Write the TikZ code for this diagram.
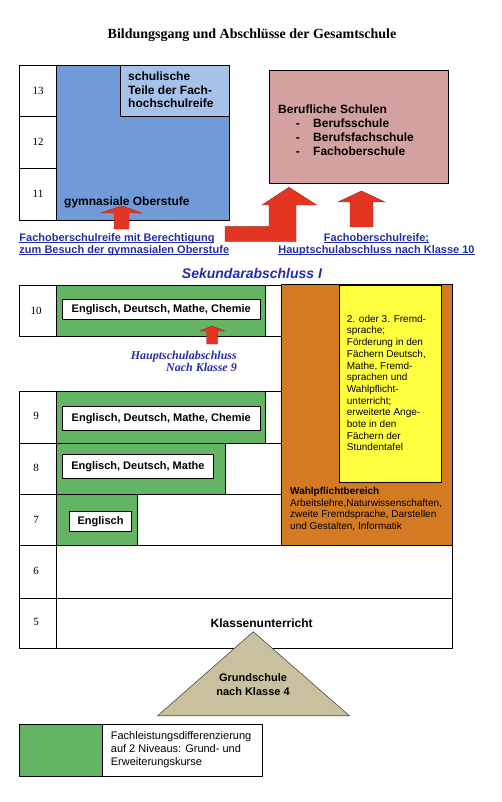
\documentclass[tikz,border=0pt]{standalone}
\usepackage{fontspec}
\setmainfont{Liberation Sans}
\newfontfamily\timesfont{Liberation Serif}

\definecolor{gymblau}{RGB}{112,155,216}
\definecolor{hellblau}{RGB}{166,194,233}
\definecolor{rosa}{RGB}{212,161,161}
\definecolor{pfeilrot}{RGB}{228,53,35}
\definecolor{gruen}{RGB}{99,180,99}
\definecolor{wahlorange}{RGB}{212,122,34}
\definecolor{gelb}{RGB}{255,255,64}
\definecolor{sand}{RGB}{201,193,157}
\definecolor{linkblau}{RGB}{35,45,170}

% underline close to the baseline
\newcommand{\unterstr}[1]{\setbox0\hbox{#1}\rlap{\rule[-1.8pt]{\wd0}{0.8pt}}\box0}

\begin{document}
\begin{tikzpicture}[x=1pt,y=-1pt,
  every node/.style={inner sep=0pt},
  rahmen/.style={draw=black, line width=0.8pt},
  zahl/.style={font=\timesfont\fontsize{11}{13}\selectfont},
  kurs/.style={draw=black, line width=0.8pt, fill=white, anchor=north west,
    font=\bfseries\fontsize{11}{13}\selectfont},
  pfeil/.style={fill=pfeilrot, draw=pfeilrot!70!black, line width=0.4pt},
  hinweis/.style={text=linkblau, font=\bfseries\fontsize{11}{12}\selectfont}
]
\useasboundingbox (0,0) rectangle (501,802);

% Title
\node[font=\timesfont\bfseries\fontsize{14}{16}\selectfont] (titel) at (252,35)
  {Bildungsgang und Abschlüsse der Gesamtschule};

% Oberstufe
\draw[rahmen] (19.3,65) rectangle (56.7,220);
\draw[rahmen] (19.3,116) -- (56.7,116) (19.3,168) -- (56.7,168);
\draw[rahmen, fill=gymblau] (56.7,65) rectangle (229,220);
\draw[rahmen, fill=hellblau] (120.7,65) rectangle (229,116);
\node[zahl] (k13) at (38,90.7) {13};
\node[zahl] (k12) at (38,142) {12};
\node[zahl] (k11) at (38,193.5) {11};
\node[anchor=base west, align=left, font=\bfseries\fontsize{12}{13.5}\selectfont]
  (fhr) at (128,108) {schulische\\Teile der Fach-\\hochschulreife};
\node[anchor=base west, font=\bfseries\fontsize{12}{14}\selectfont]
  (gym) at (64,206) {gymnasiale Oberstufe};

% Berufliche Schulen
\draw[rahmen, fill=rosa] (269,70) rectangle (448,183);
\node[anchor=base west, align=left, font=\bfseries\fontsize{12}{14}\selectfont]
  (beruf) at (278,156) {Berufliche Schulen\\
  \hspace*{17.7pt}\makebox[17.3pt][l]{-}Berufsschule\\
  \hspace*{17.7pt}\makebox[17.3pt][l]{-}Berufsfachschule\\
  \hspace*{17.7pt}\makebox[17.3pt][l]{-}Fachoberschule};

% Arrows
\draw[pfeil] (114,229) -- (114,213) -- (101,213) -- (121.5,206) -- (142,213)
  -- (129,213) -- (129,229) -- cycle;
\draw[pfeil] (225,226.7) -- (269,226.7) -- (269,205) -- (262,205) -- (289,187.3)
  -- (316.7,205) -- (296,205) -- (296,241.7) -- (225,241.7) -- cycle;
\draw[pfeil] (350,227) -- (350,202) -- (338,202) -- (361.5,191) -- (385,202)
  -- (373,202) -- (373,227) -- cycle;

\node[hinweis, anchor=base west, align=left] (fosgym) at (19.3,253)
  {\unterstr{Fachoberschulreife mit Berechtigung}\\
   \unterstr{zum Besuch der gymnasialen Oberstufe}};
\node[hinweis, anchor=base, align=center] (fos) at (376.5,253)
  {\unterstr{Fachoberschulreife;}\\
   \unterstr{Hauptschulabschluss nach Klasse 10}};

\node[text=linkblau, font=\bfseries\itshape\fontsize{14}{16}\selectfont]
  (sek) at (252,273) {Sekundarabschluss I};

% Wahlpflichtbereich
\draw[rahmen, fill=wahlorange] (281.7,284.3) rectangle (452.3,545.7);
\draw[rahmen, fill=gelb] (339.7,285.7) rectangle (441.7,482.3);
\node[anchor=base west, align=left, font=\fontsize{10}{11.7}\selectfont]
  (foerder) at (346.7,450.9) {2. oder 3. Fremd-\\sprache;\\Förderung in den\\
  Fächern Deutsch,\\Mathe, Fremd-\\sprachen und\\Wahlpflicht-\\unterricht;\\
  erweiterte Ange-\\bote in den\\Fächern der\\Stundentafel};
\node[anchor=base west, align=left, font=\fontsize{10}{11.7}\selectfont]
  (wahl) at (290,529.6) {\textbf{Wahlpflichtbereich}\\
  Arbeitslehre,Naturwissenschaften,\\zweite Fremdsprache, Darstellen\\
  und Gestalten, Informatik};

% Klasse 10
\draw[rahmen] (19.3,285.7) rectangle (281.7,336);
\draw[rahmen, fill=gruen] (56.7,285.7) rectangle (265,336);
\node[kurs, minimum width=198.3pt, minimum height=19.7pt] (kurs10) at (61.7,299)
  {Englisch, Deutsch, Mathe, Chemie};
\node[zahl] (k10) at (36,310.7) {10};
\draw[pfeil] (206.7,344) -- (206.7,331) -- (200,331) -- (211.7,326) -- (225,331)
  -- (217.3,331) -- (217.3,344) -- cycle;
\node[anchor=base east, align=right, text=linkblau,
  font=\timesfont\bfseries\itshape\fontsize{12}{12}\selectfont]
  (hsa9) at (237,371) {Hauptschulabschluss\\Nach Klasse 9};

% Klassen 9 bis 7
\draw[rahmen] (19.3,391) rectangle (281.7,545.7);
\draw[rahmen] (19.3,443) -- (281.7,443) (19.3,494) -- (281.7,494);
\draw[rahmen, fill=gruen] (56.7,391) rectangle (265,443);
\draw[rahmen, fill=gruen] (56.7,443) rectangle (225,494);
\draw[rahmen, fill=gruen] (56.7,494) rectangle (137.3,545.7);
\node[kurs, minimum width=198.3pt, minimum height=24.6pt] (kurs9) at (61.7,405.7)
  {Englisch, Deutsch, Mathe, Chemie};
\node[kurs, minimum width=151.6pt, minimum height=24pt] (kurs8) at (61.7,454.3)
  {Englisch, Deutsch, Mathe};
\node[kurs, minimum width=61.7pt, minimum height=20pt] (kurs7) at (69.3,511)
  {Englisch};
\node[zahl] (k9) at (36,416) {9};
\node[zahl] (k8) at (36,468.3) {8};
\node[zahl] (k7) at (36,520) {7};

% Klassen 6 und 5
\draw[rahmen] (19.3,545.7) rectangle (452.3,648.3);
\draw[rahmen] (19.3,598.3) -- (452.3,598.3) (56.7,545.7) -- (56.7,648.3);
\node[zahl] (k6) at (36,571) {6};
\node[zahl] (k5) at (36,621.7) {5};
\node[font=\bfseries\fontsize{12}{14}\selectfont] (klasse) at (261.7,623.3)
  {Klassenunterricht};

% Grundschule
\draw[fill=sand, draw=black!70, line width=0.6pt]
  (253.3,631.7) -- (349.3,715.7) -- (157.7,715.7) -- cycle;
\node[align=center, font=\bfseries\fontsize{11}{14}\selectfont] (grund)
  at (253,684.7) {Grundschule\\nach Klasse 4};

% Legende
\draw[rahmen] (19.3,724.3) rectangle (262.3,776.7);
\draw[rahmen, fill=gruen] (19.3,724.3) rectangle (102.3,776.7);
\node[anchor=base west, align=left, font=\fontsize{11}{13.3}\selectfont]
  (legende) at (110.7,765.6) {Fachleistungsdifferenzierung\\
  auf 2 Niveaus: Grund- und\\Erweiterungskurse};

\end{tikzpicture}
\end{document}
